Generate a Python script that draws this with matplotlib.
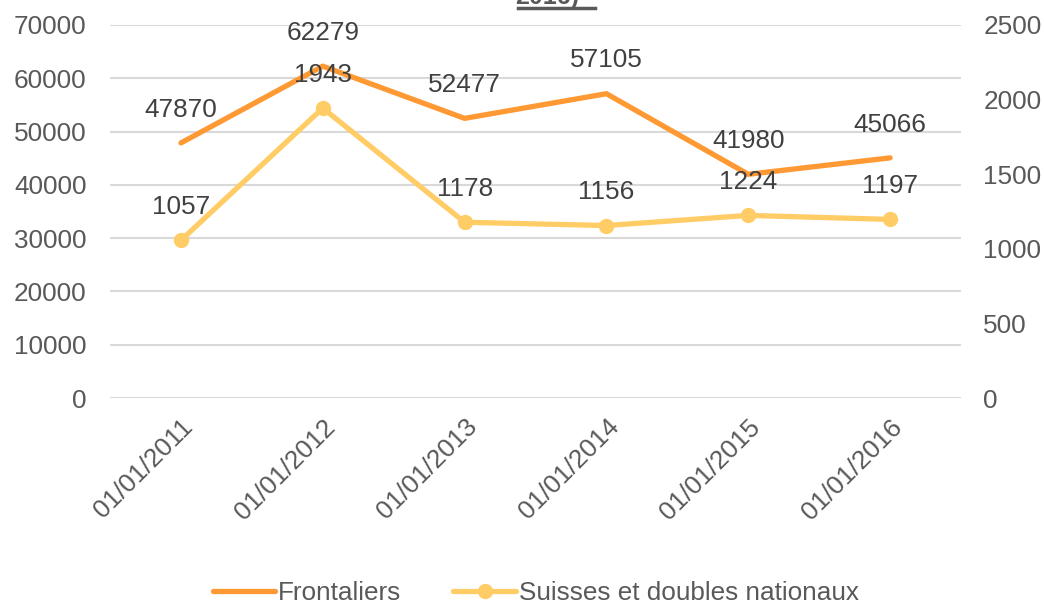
import matplotlib.pyplot as plt
from matplotlib.lines import Line2D

dates = ["01/01/2011", "01/01/2012", "01/01/2013", "01/01/2014", "01/01/2015", "01/01/2016"]
frontaliers = [47870, 62279, 52477, 57105, 41980, 45066]
suisses = [1057, 1943, 1178, 1156, 1224, 1197]

orange = "#FF9933"
yellow = "#FFCC66"
grey = "#595959"

plt.rcParams['font.family'] = ['Liberation Sans', 'DejaVu Sans']

fig = plt.figure(figsize=(10.44, 6.05), dpi=100)
ax = fig.add_axes([0.1054, 0.3421, 0.8151, 0.6166])
ax2 = ax.twinx()

x = range(len(dates))
ax.plot(x, frontaliers, color=orange, linewidth=3.8, solid_capstyle='round', zorder=3)
ax2.plot(x, suisses, color=yellow, linewidth=3.8, marker='o', markersize=10, solid_capstyle='round', zorder=3)

fs = 18.8
for i, v in enumerate(frontaliers):
    ax.annotate(str(v), (i, v), xytext=(0, 24), textcoords='offset points',
                ha='center', va='center', fontsize=fs, color="#404040")
for i, v in enumerate(suisses):
    ax2.annotate(str(v), (i, v), xytext=(0, 24), textcoords='offset points',
                 ha='center', va='center', fontsize=fs, color="#404040")

ax.set_xlim(-0.5, 5.5)
ax.set_ylim(0, 70000)
ax2.set_ylim(0, 2500)
ax.set_yticks(range(0, 70001, 10000))
ax2.set_yticks(range(0, 2501, 500))
ax.set_xticks(list(x))
ax.set_xticklabels(dates, rotation=45, ha='right', rotation_mode='anchor')
ax.grid(axis='y', color='#D9D9D9', linewidth=1.5)
ax.set_axisbelow(True)

for a in (ax, ax2):
    for s in a.spines.values():
        s.set_visible(False)
    a.tick_params(length=0, labelsize=fs, labelcolor=grey)
ax.tick_params(axis='y', pad=17)
ax.tick_params(axis='x', pad=12)
ax2.tick_params(axis='y', pad=16)

# clipped title at top
fig.text(0.5245, 1.0 - 9 / 605, "2016)", ha='center', va='bottom', fontsize=18,
         fontweight='bold', color=grey)
fig.add_artist(Line2D([518 / 1044, 595 / 1044], [1 - 8 / 605, 1 - 8 / 605],
                      color=grey, linewidth=2.5))

handles = [Line2D([], [], color=orange, linewidth=3.8, solid_capstyle='round'),
           Line2D([], [], color=yellow, linewidth=3.8, marker='o', markersize=10, solid_capstyle='round')]
fig.legend(handles, ["Frontaliers", "Suisses et doubles nationaux"], loc='center',
           bbox_to_anchor=(0.513, 1 - 593 / 605), ncol=2, frameon=False, fontsize=fs,
           labelcolor=grey, handlelength=2.4, handletextpad=0.1, columnspacing=2.0)

fig.savefig("out.png", dpi=100)
